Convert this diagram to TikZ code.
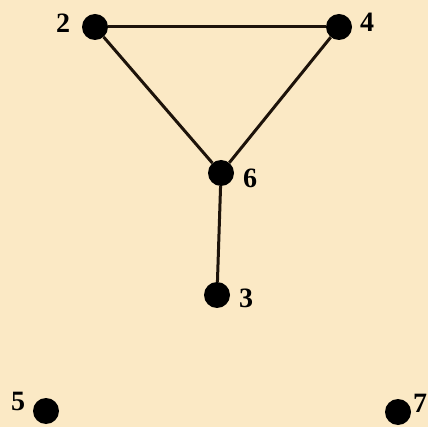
\documentclass[tikz,border=0pt]{standalone}
\usepackage{fontspec}
\setmainfont{Liberation Serif}
\definecolor{paper}{RGB}{251,233,197}
\begin{document}
\begin{tikzpicture}[
    x=1pt, y=-1pt,
    vtx/.style={circle, fill=black, minimum size=26pt, inner sep=0pt},
    vlbl/.style={font=\fontsize{28}{28}\selectfont\bfseries, inner sep=0pt},
    edge/.style={line width=3pt, black!85!brown},
  ]
    % --- background ---
    \fill[paper] (0,0) rectangle (428,427);
    \useasboundingbox (0,0) rectangle (428,427);

    % --- vertices ---
    \node[vtx] (v2) at (95, 27) {};
    \node[vtx] (v4) at (339, 27) {};
    \node[vtx] (v6) at (221, 173) {};
    \node[vtx] (v3) at (217, 295) {};
    \node[vtx] (v5) at (46, 411) {};
    \node[vtx] (v7) at (398, 412) {};

    % --- labels ---
    \node[vlbl] (l2) at (63, 23) {2};
    \node[vlbl] (l4) at (367, 22) {4};
    \node[vlbl] (l6) at (250, 178) {6};
    \node[vlbl] (l3) at (246, 298) {3};
    \node[vlbl] (l5) at (18, 401) {5};
    \node[vlbl] (l7) at (420, 403) {7};

    % --- edges ---
    \draw[edge] (v2) -- (v4);
    \draw[edge] (v2) -- (v6);
    \draw[edge] (v4) -- (v6);
    \draw[edge] (v6) -- (v3);
\end{tikzpicture}
\end{document}
